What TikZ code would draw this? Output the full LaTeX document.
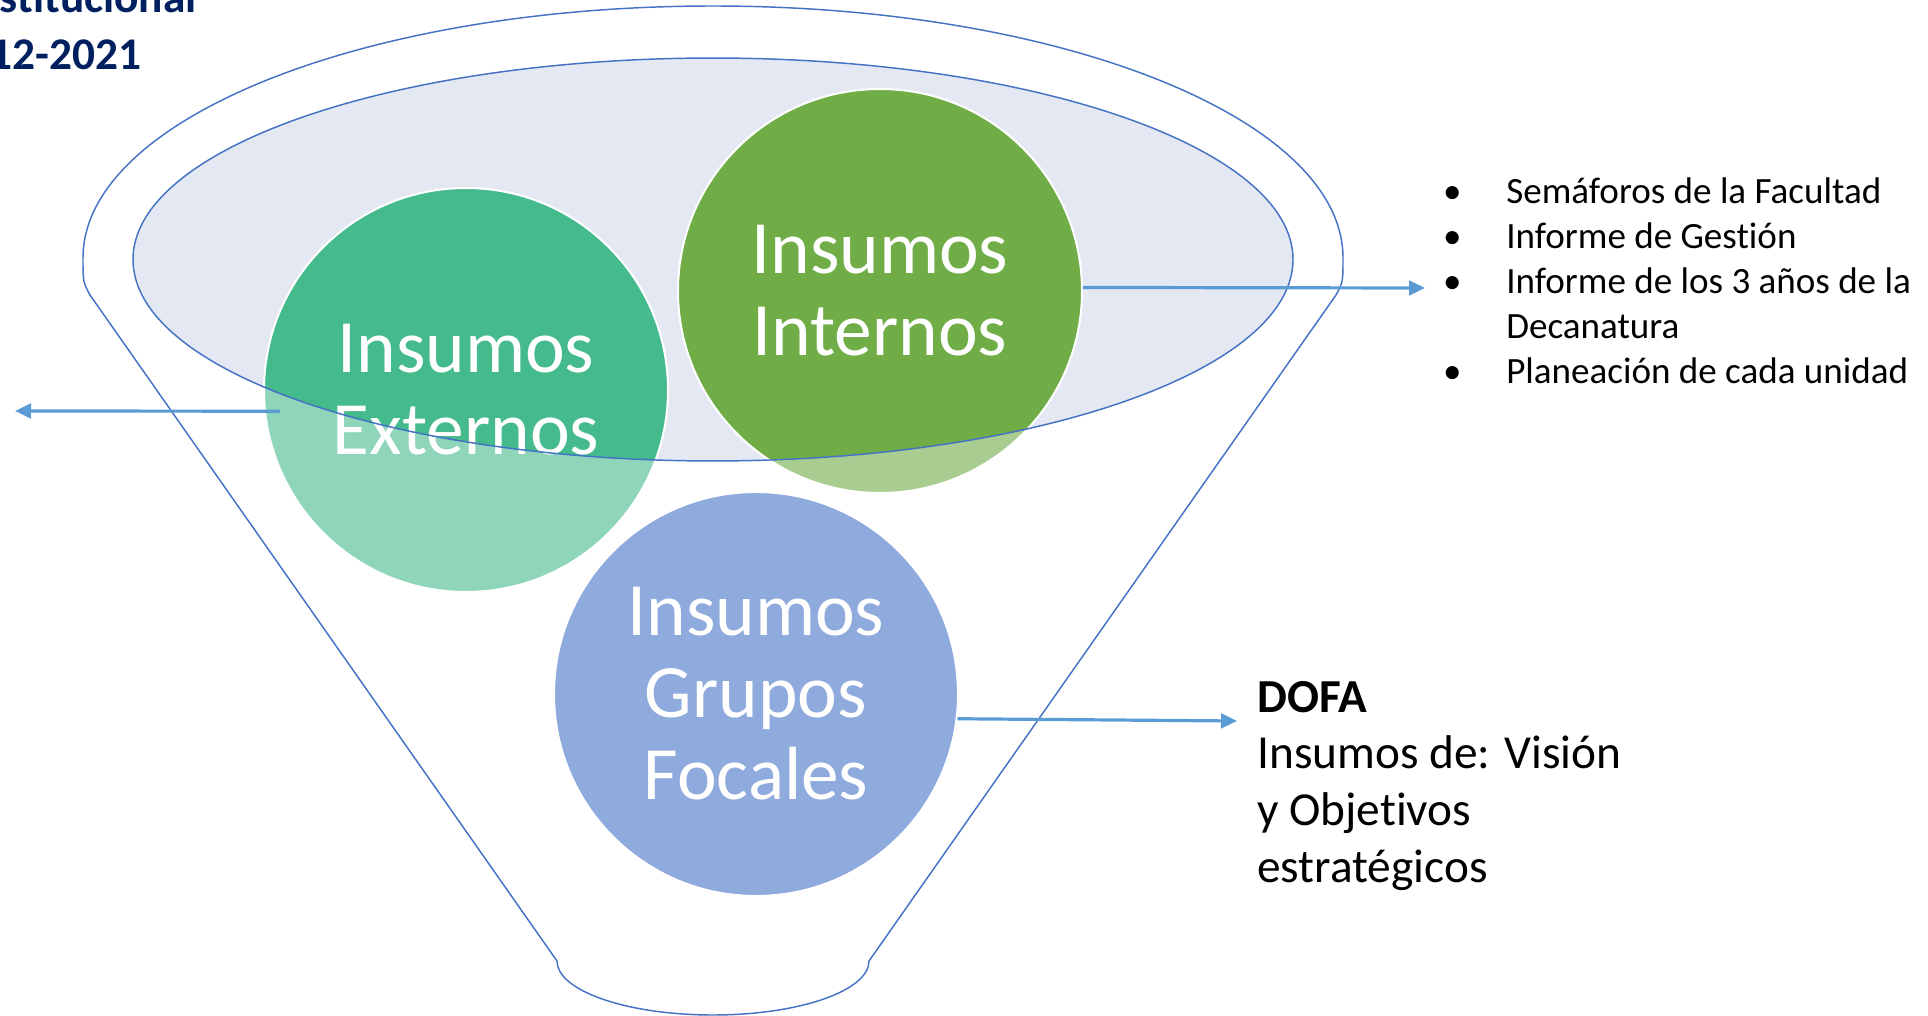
\documentclass[tikz,border=0pt]{standalone}
\usepackage{fontspec}
\setmainfont{Carlito}[RawFeature={-liga}]
\usepackage{array}
\usetikzlibrary{arrows.meta}
\definecolor{funnelc}{HTML}{4472C4}
\definecolor{arrowc}{HTML}{5B9BD5}
\definecolor{ellfill}{HTML}{E4E8F3}
\definecolor{extc}{HTML}{45BA8C}
\definecolor{intc}{HTML}{70AD47}
\definecolor{focc}{HTML}{8FAADC}
\definecolor{navyc}{HTML}{002060}
\begin{document}
\begin{tikzpicture}[x=0.75pt,y=-0.75pt,
  outline/.style={draw=funnelc, line width=1.1pt},
  bubble/.style={circle, minimum size=303pt, inner sep=0pt, draw=white, line width=1.5pt,
    text=white, align=center, font=\fontsize{56.5}{61.5}\selectfont},
  conn/.style={draw=arrowc, line width=2.4pt, -{Triangle[length=12pt,width=11pt]}},
  titletext/.style={anchor=base east, inner sep=0pt, text=navyc, font=\bfseries\fontsize{34}{42}\selectfont},
  plaintext/.style={anchor=base west, inner sep=0pt, text=black}
]
\useasboundingbox (0,0) rectangle (1928,1016);
\clip (0,0) rectangle (1928,1016);

% funnel outline
\draw[outline] (90,295) -- (557,961)
  arc[start angle=180, end angle=360, x radius=117pt, y radius=40.5pt]
  -- (1336,295) .. controls (1343,282) .. (1343,258)
  arc[start angle=0, end angle=180, x radius=472.5pt, y radius=189pt]
  .. controls (83,282) .. (90,295) -- cycle;

% inner ellipse fill
\fill[ellfill] (713,259.5) ellipse [x radius=435pt, y radius=151.1pt];

% circles
\node[bubble, fill=extc] (ext) at (466,390) {Insumos\\Externos};
\node[bubble, fill=intc] (int) at (880,291) {Insumos\\Internos};
\node[bubble, fill=focc] (foc) at (756,694) {Insumos\\Grupos\\Focales};

% lighten the parts outside the ellipse
\begin{scope}
  \clip (466,390) circle [radius=152.5pt];
  \fill[white, opacity=0.4, even odd rule] (0,0) rectangle (1928,1016)
    (713,259.5) ellipse [x radius=435pt, y radius=151.1pt];
\end{scope}
\begin{scope}
  \clip (880,291) circle [radius=152.5pt];
  \fill[white, opacity=0.4, even odd rule] (0,0) rectangle (1928,1016)
    (713,259.5) ellipse [x radius=435pt, y radius=151.1pt];
\end{scope}

% ellipse border
\draw[outline] (713,259.5) ellipse [x radius=435pt, y radius=151.1pt];

% title (cut off at the edge, as in the reference)
\node[titletext] (t1) at (197,13) {stitucional};
\node[titletext] (t2) at (142,70) {12-2021};

% list
\node[plaintext, font=\fontsize{27.8}{33.7}\selectfont] (list) at (1432,204)
  {\begin{tabular}[t]{@{}w{c}{30pt}@{\hspace{25.5pt}}l@{}}
   • & Semáforos de la Facultad\\
   • & Informe de Gestión\\
   • & Informe de los 3 años de la\\
     & Decanatura\\
   • & Planeación de cada unidad
   \end{tabular}};

% DOFA
\node[plaintext, font=\fontsize{35.5}{42.7}\selectfont] (dofa) at (1257,712)
  {\begin{tabular}[t]{@{}l@{}}
   \textbf{DOFA}\\
   Insumos de: Visión\\
   y Objetivos\\
   estratégicos
   \end{tabular}};

% connectors
\coordinate (extOut) at (15,411);
\coordinate (intOut) at (1425,288);
\coordinate (focOut) at (1237,721);
\draw[conn] ([xshift=12pt]ext.186) -- (extOut);
\draw[conn] (int.1) -- (intOut);
\draw[conn] (foc.-7) -- (focOut);
\end{tikzpicture}
\end{document}
